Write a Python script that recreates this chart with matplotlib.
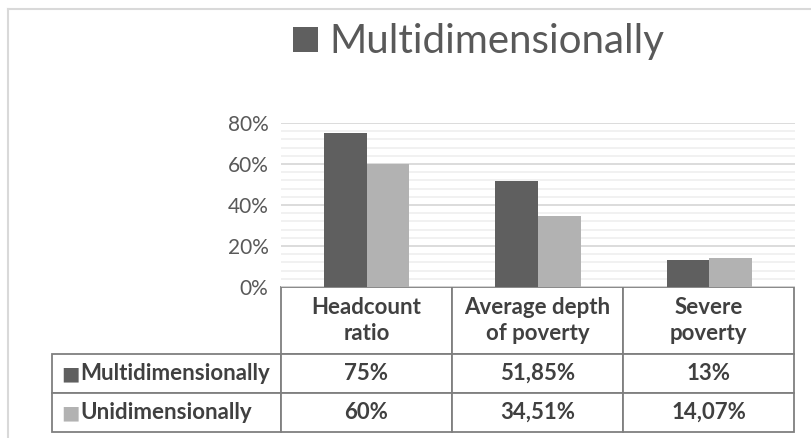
import numpy as np
import matplotlib
matplotlib.use("Agg")
import matplotlib.pyplot as plt
from matplotlib.lines import Line2D

# --- data ---
categories = ["Headcount\nratio", "Average depth\nof poverty", "Severe\npoverty"]
series_names = ["Multidimensionally", "Unidimensionally"]
multi_vals = [0.75, 0.5185, 0.13]
uni_vals = [0.60, 0.3451, 0.1407]
multi_labels = ["75%", "51,85%", "13%"]
uni_labels = ["60%", "34,51%", "14,07%"]
y_ticks = [0, 0.2, 0.4, 0.6, 0.8]

DARK = "#5f5f5f"
LIGHT = "#b2b2b2"
TXT = "#404040"

plt.rcParams["font.family"] = ["Lato", "DejaVu Sans"]

W, H = 812, 438
fig = plt.figure(figsize=(W / 100, H / 100), dpi=100)

# plot area in pixel terms
left, right, top, bottom = 281, 795, 123, 287
ax = fig.add_axes([left / W, 1 - bottom / H, (right - left) / W, (bottom - top) / H])

x = np.arange(len(categories))
bw = 0.25
b1 = ax.bar(x - bw / 2, multi_vals, bw, color=DARK, label=series_names[0], zorder=3)
b2 = ax.bar(x + bw / 2, uni_vals, bw, color=LIGHT, label=series_names[1], zorder=3)

ax.set_xlim(-0.5, len(categories) - 0.5)
ax.set_ylim(0, 0.8)
ax.set_yticks(y_ticks)
ax.set_yticklabels([f"{int(round(v * 100))}%" for v in y_ticks], color="#595959", fontsize=15)
ax.set_yticks(np.arange(0, 0.81, 0.04), minor=True)
ax.tick_params(axis="y", length=0, pad=9, which="both")
ax.set_xticks([])
ax.grid(True, axis="y", which="major", color="#d9d9d9", lw=1.3, zorder=0)
ax.grid(True, axis="y", which="minor", color="#f0f0f0", lw=1.3, zorder=0)
for s in ax.spines.values():
    s.set_visible(False)

# --- data table under the bars ---
rows = [[""] + categories,
        [series_names[0]] + multi_labels,
        [series_names[1]] + uni_labels]
col_w = [229, 171, 171, 171]
row_h = [67, 39, 39]
pw, ph = right - left, bottom - top
tbl = ax.table(cellText=rows, cellLoc="center",
               bbox=[-col_w[0] / pw, -sum(row_h) / ph, sum(col_w) / pw, sum(row_h) / ph])
tbl.auto_set_font_size(False)
for (r, c), cell in tbl.get_celld().items():
    cell.set_width(col_w[c] / pw)
    cell.set_height(row_h[r] / ph)
    cell.set_edgecolor("#7f7f7f")
    cell.set_linewidth(1.3)
    t = cell.get_text()
    t.set_fontsize(16)
    t.set_fontweight("bold")
    t.set_color(TXT)
    t.set_linespacing(1.25)
    if r == 0 and c == 0:
        cell.visible_edges = ""
    if c == 0 and r > 0:
        t.set_ha("left")
        cell._loc = "left"
        cell.PAD = 28 / col_w[0]

# legend keys inside the row label cells
tb_left = -col_w[0] / pw
for i, col in enumerate([DARK, LIGHT]):
    yc = -(row_h[0] + row_h[1] * i + row_h[1] / 2) / ph
    ax.text(tb_left + 9 / pw, yc, "\u25a0", color=col, fontsize=14,
            ha="left", va="center", transform=ax.transAxes, family="DejaVu Sans")

# top legend, only first entry visible as in the original
fig.legend(handles=[b1], labels=[series_names[0]], loc="center",
           bbox_to_anchor=(479 / W, 1 - 42 / H), frameon=False, fontsize=29,
           handlelength=0.6, handleheight=0.6, handletextpad=0.3,
           labelcolor="#595959")

# chart frame (left and top edges)
fig.add_artist(Line2D([8 / W, 8 / W], [0, 1 - 9 / H], color="#d9d9d9", lw=1.5))
fig.add_artist(Line2D([8 / W, 1], [1 - 9 / H, 1 - 9 / H], color="#d9d9d9", lw=1.5))

fig.savefig("out.png", dpi=100)
